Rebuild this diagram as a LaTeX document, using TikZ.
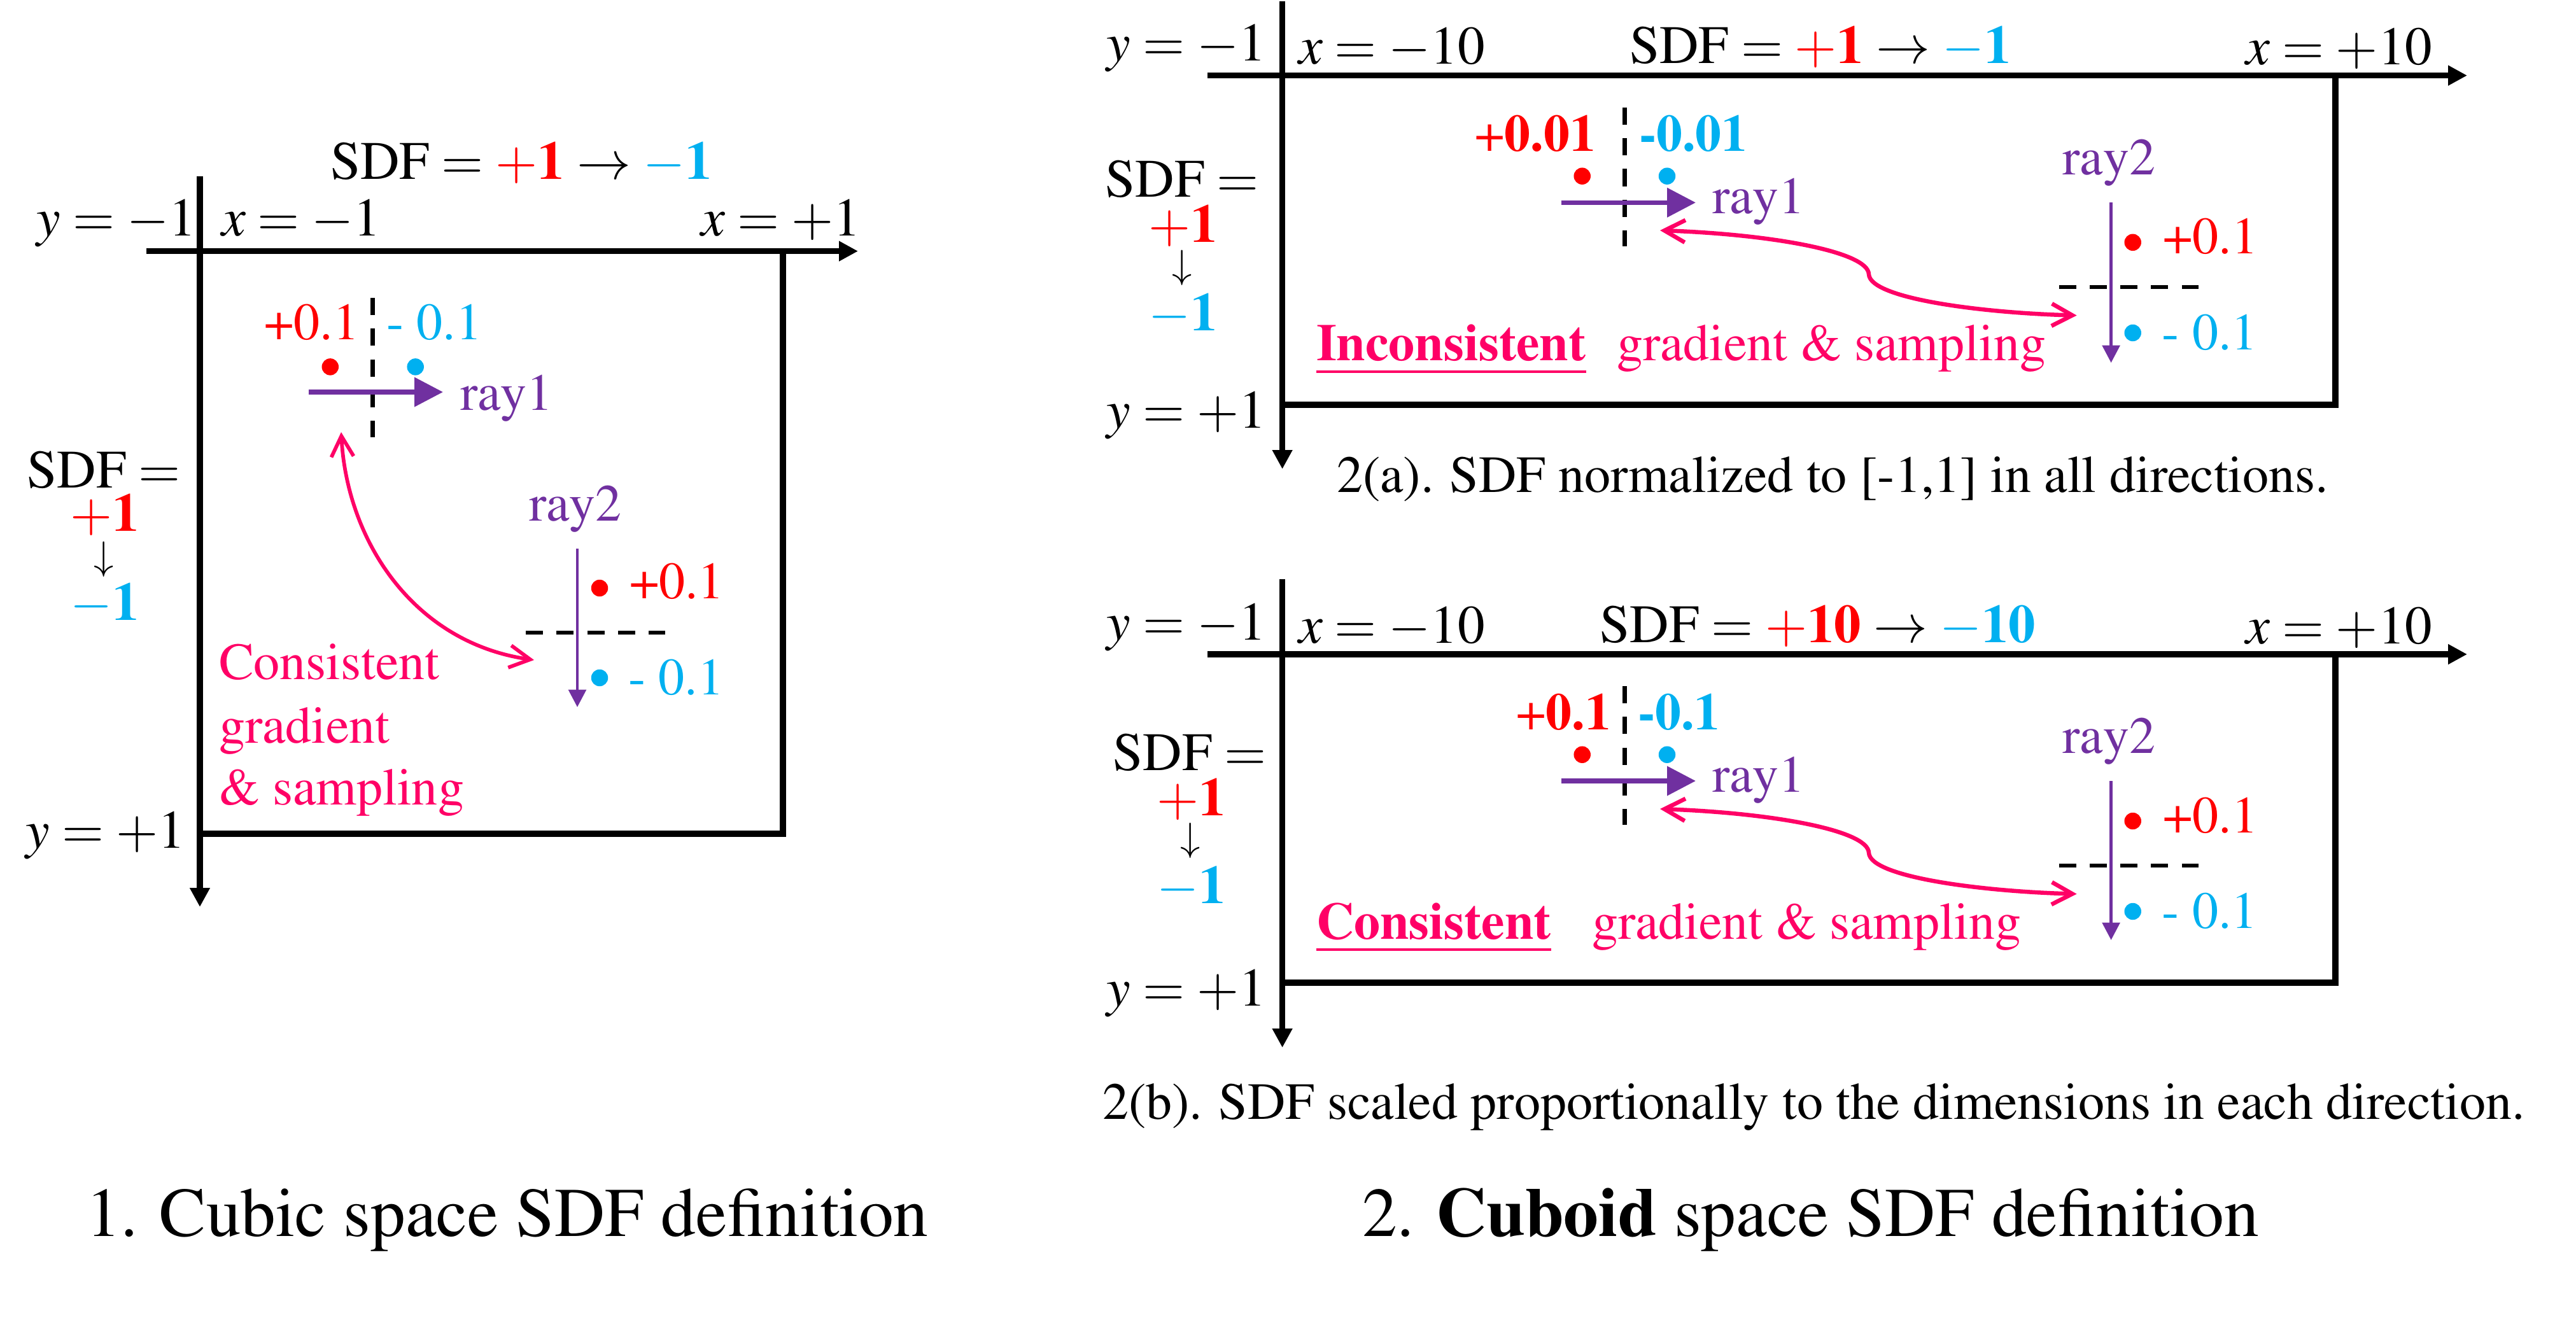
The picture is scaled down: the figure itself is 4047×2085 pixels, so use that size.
\documentclass[tikz,border=0pt]{standalone}
\usepackage[T1]{fontenc}
\usepackage{mathptmx}
\usetikzlibrary{arrows.meta}
\definecolor{sred}{RGB}{255,0,0}
\definecolor{sblue}{RGB}{0,176,240}
\definecolor{spurple}{RGB}{112,48,160}
\definecolor{spink}{RGB}{255,0,102}
\newcommand\txtsz{\fontsize{32.8}{36}\selectfont}
\newcommand\mathsz{\fontsize{34}{38}\selectfont}
\newcommand\arrsz{\fontsize{25}{28}\selectfont}
\newcommand\titlesz{\fontsize{43.8}{50}\selectfont}
\tikzset{
  axis/.style={line width=3.8pt, -{Triangle[length=12pt,width=12pt]}},
  boxline/.style={line width=3.8pt, line join=miter},
  rayone/.style={spurple, line width=2.9pt, -{Triangle[length=18pt,width=18pt]}},
  raytwo/.style={spurple, line width=1.9pt, -{Triangle[length=11pt,width=11pt]}},
  dashline/.style={line width=2.6pt, dash pattern=on 10.8pt off 8.5pt},
  pinkarrow/.style={spink, line width=#1, {Straight Barb[length=13pt,width=14pt]}-{Straight Barb[length=13pt,width=14pt]}},
  pinkarrow/.default=2.3pt,
  reddot/.style={circle, fill=sred, minimum size=10.6pt, inner sep=0pt},
  bluedot/.style={circle, fill=sblue, minimum size=10.6pt, inner sep=0pt},
  txt/.style={font=\txtsz},
  mth/.style={font=\mathsz},
  ttl/.style={font=\titlesz},
}
\begin{document}
\begin{tikzpicture}[x=0.4pt,y=-0.4pt, every node/.style={inner sep=0pt, outer sep=0pt}]
\useasboundingbox (0,0) rectangle (4047,2085);

% ================= Panel 1 =================
\coordinate (h1s) at (230,394.6);
\coordinate (h1e) at (1348,394.6);
\coordinate (v1s) at (314,277);
\coordinate (v1e) at (314,1425);
\coordinate (b1a) at (1230,390);
\coordinate (b1b) at (1230,1310);
\coordinate (b1c) at (314,1310);
\draw[axis] (h1s) -- (h1e);
\draw[axis] (v1s) -- (v1e);
\draw[boxline] (b1a) -- (b1b) -- (b1c);

\node[mth, anchor=base east] (p1ym) at (308,371) {$y = -1$};
\node[mth, anchor=base west] (p1xm) at (348,371) {$x = -1$};
\node[mth, anchor=base east] (p1xp) at (1352,371) {$x = +1$};
\node[mth, anchor=base] (p1sdf) at (819,282) {$\mathrm{SDF} = {\color{sred}+\mathbf{1}} \rightarrow {\color{sblue}-\mathbf{1}}$};
\node[mth, anchor=base] (p1l1) at (163,766) {$\mathrm{SDF} =$};
\node[mth, anchor=base] (p1l2) at (165,834) {$\color{sred}+\mathbf{1}$};
\node[font=\arrsz] (p1l3) at (163,879) {$\downarrow$};
\node[mth, anchor=base] (p1l4) at (165,974) {$\color{sblue}-\mathbf{1}$};
\node[mth, anchor=base east] (p1yp) at (291,1332) {$y = +1$};

\coordinate (d1a) at (585.7,468);
\coordinate (d1b) at (585.7,687);
\draw[dashline] (d1a) -- (d1b);
\node[txt, anchor=base east, text=sred] (p1pa) at (564,533) {+0.1};
\node[txt, anchor=base west, text=sblue] (p1ma) at (607,533) {- 0.1};
\node[reddot] (p1r1) at (518.8,576.4) {};
\node[bluedot] (p1b1) at (652.7,576.4) {};
\coordinate (r1a) at (485,616);
\coordinate (r1b) at (696,616);
\draw[rayone] (r1a) -- (r1b);
\node[txt, anchor=base west, text=spurple] (p1ray1) at (723,644) {ray1};

\node[txt, anchor=base, text=spurple] (p1ray2) at (904,818) {ray2};
\coordinate (r2a) at (907,862);
\coordinate (r2b) at (907,1111);
\coordinate (d2a) at (826,994);
\coordinate (d2b) at (1045,994);
\draw[dashline] (d2a) -- (d2b);
\draw[raytwo] (r2a) -- (r2b);
\node[reddot] (p1r2) at (942,924) {};
\node[txt, anchor=base west, text=sred] (p1pb) at (989,940) {+0.1};
\node[bluedot] (p1b2) at (942,1065) {};
\node[txt, anchor=base west, text=sblue] (p1mb) at (987,1091.5) {- 0.1};

\coordinate (c1a) at (536,679);
\coordinate (c1b) at (839,1037);
\draw[pinkarrow=2.3pt] (c1a) .. controls (545,850) and (650,1010) .. (c1b);
\node[txt, anchor=base west, text=spink] (p1c1) at (344,1067.6) {Consistent};
\node[txt, anchor=base west, text=spink] (p1c2) at (344,1167) {gradient};
\node[txt, anchor=base west, text=spink] (p1c3) at (344,1264.6) {\& sampling};

\node[ttl, anchor=base west] (t1) at (135,1942) {1. Cubic space SDF definition};

% ================= Panel 2(a) =================
\coordinate (h2s) at (1897,118.6);
\coordinate (h2e) at (3876,118.6);
\coordinate (v2s) at (2014.6,2);
\coordinate (v2e) at (2014.6,737);
\coordinate (b2a) at (3669,114);
\coordinate (b2b) at (3669,636);
\coordinate (b2c) at (2014.6,636);
\draw[axis] (h2s) -- (h2e);
\draw[axis] (v2s) -- (v2e);
\draw[boxline] (b2a) -- (b2b) -- (b2c);

\node[mth, anchor=base east] (aym) at (1989,96) {$y = -1$};
\node[mth, anchor=base west] (axm) at (2040,101) {$x = -10$};
\node[mth, anchor=base] (asdf) at (2860,100) {$\mathrm{SDF} = {\color{sred}+\mathbf{1}} \rightarrow {\color{sblue}-\mathbf{1}}$};
\node[mth, anchor=base east] (axp) at (3821,102) {$x = +10$};
\node[mth, anchor=base] (al1) at (1857,310) {$\mathrm{SDF} =$};
\node[mth, anchor=base] (al2) at (1859,381) {$\color{sred}+\mathbf{1}$};
\node[font=\arrsz] (al3) at (1857,421) {$\downarrow$};
\node[mth, anchor=base] (al4) at (1859,519) {$\color{sblue}-\mathbf{1}$};
\node[mth, anchor=base east] (ayp) at (1989,672) {$y = +1$};

\coordinate (ad1a) at (2552.7,169);
\coordinate (ad1b) at (2552.7,387);
\draw[dashline] (ad1a) -- (ad1b);
\node[txt, anchor=base east, text=sred] (apa) at (2507,238) {+\textbf{0.01}};
\node[txt, anchor=base west, text=sblue] (ama) at (2575,238) {\textbf{-0.01}};
\node[reddot] (ar1) at (2485.7,276.7) {};
\node[bluedot] (ab1) at (2619,276.7) {};
\coordinate (ar1a) at (2452.7,318.3);
\coordinate (ar1b) at (2664,318.3);
\draw[rayone] (ar1a) -- (ar1b);
\node[txt, anchor=base west, text=spurple] (aray1) at (2690,335.7) {ray1};

\node[txt, anchor=base, text=spurple] (aray2) at (3313.5,274.4) {ray2};
\coordinate (ar2a) at (3316.6,318.4);
\coordinate (ar2b) at (3316.6,570);
\coordinate (ad2a) at (3234.7,451.2);
\coordinate (ad2b) at (3454,451.2);
\draw[dashline] (ad2a) -- (ad2b);
\draw[raytwo] (ar2a) -- (ar2b);
\node[reddot] (ar2) at (3350.7,380.8) {};
\node[txt, anchor=base west, text=sred] (apb) at (3398.5,398.8) {+0.1};
\node[bluedot] (ab2) at (3350.7,523) {};
\node[txt, anchor=base west, text=sblue] (amb) at (3396.6,549) {- 0.1};

\coordinate (acl) at (2608,362);
\coordinate (acm) at (2936,431);
\coordinate (acr) at (3262.6,495.6);
\draw[pinkarrow=2.6pt] (acl) .. controls (2780,368) and (2935,395) .. (acm) .. controls (2938,470) and (3120,492) .. (acr);
\node[txt, anchor=base west, text=spink] (ainc) at (2068,566.4) {\textbf{Inconsistent}};
\draw[spink, line width=1.7pt] ([yshift=-6.9pt]ainc.base west) -- ([yshift=-6.9pt]ainc.base east);
\node[txt, anchor=base west, text=spink] (agrad) at (2540,566) {gradient \& sampling};
\node[txt, anchor=base west] (acap) at (2100,773.6) {2(a). SDF normalized to [-1,1] in all directions.};

% ================= Panel 2(b) =================
\coordinate (h3s) at (1897,1028);
\coordinate (h3e) at (3876,1028);
\coordinate (v3s) at (2014.6,910);
\coordinate (v3e) at (2014.6,1646);
\coordinate (b3a) at (3669,1023.5);
\coordinate (b3b) at (3669,1544);
\coordinate (b3c) at (2014.6,1544);
\draw[axis] (h3s) -- (h3e);
\draw[axis] (v3s) -- (v3e);
\draw[boxline] (b3a) -- (b3b) -- (b3c);

\node[mth, anchor=base east] (bym) at (1989,1005) {$y = -1$};
\node[mth, anchor=base west] (bxm) at (2040,1010) {$x = -10$};
\node[mth, anchor=base] (bsdf) at (2856,1009) {$\mathrm{SDF} = {\color{sred}+\mathbf{10}} \rightarrow {\color{sblue}-\mathbf{10}}$};
\node[mth, anchor=base east] (bxp) at (3821,1011) {$x = +10$};
\node[mth, anchor=base] (bl1) at (1869,1210) {$\mathrm{SDF} =$};
\node[mth, anchor=base] (bl2) at (1872,1281) {$\color{sred}+\mathbf{1}$};
\node[font=\arrsz] (bl3) at (1870,1321) {$\downarrow$};
\node[mth, anchor=base] (bl4) at (1872,1419) {$\color{sblue}-\mathbf{1}$};
\node[mth, anchor=base east] (byp) at (1989,1580) {$y = +1$};

\coordinate (bd1a) at (2552.7,1078);
\coordinate (bd1b) at (2552.7,1296);
\draw[dashline] (bd1a) -- (bd1b);
\node[txt, anchor=base east, text=sred] (bpa) at (2531,1146) {+\textbf{0.1}};
\node[txt, anchor=base west, text=sblue] (bma) at (2573,1146) {\textbf{-0.1}};
\node[reddot] (br1) at (2485.7,1185.7) {};
\node[bluedot] (bb1) at (2619,1185.7) {};
\coordinate (br1a) at (2452.7,1227);
\coordinate (br1b) at (2664,1227);
\draw[rayone] (br1a) -- (br1b);
\node[txt, anchor=base west, text=spurple] (bray1) at (2690,1244.7) {ray1};

\node[txt, anchor=base, text=spurple] (bray2) at (3313.5,1183) {ray2};
\coordinate (br2a) at (3316.6,1227.4);
\coordinate (br2b) at (3316.6,1477);
\coordinate (bd2a) at (3234.7,1360);
\coordinate (bd2b) at (3454,1360);
\draw[dashline] (bd2a) -- (bd2b);
\draw[raytwo] (br2a) -- (br2b);
\node[reddot] (br2) at (3350.7,1290) {};
\node[txt, anchor=base west, text=sred] (bpb) at (3398.5,1308) {+0.1};
\node[bluedot] (bb2) at (3350.7,1432) {};
\node[txt, anchor=base west, text=sblue] (bmb) at (3396.6,1458) {- 0.1};

\coordinate (bcl) at (2608,1271);
\coordinate (bcm) at (2936,1340);
\coordinate (bcr) at (3262.6,1404.6);
\draw[pinkarrow=2.6pt] (bcl) .. controls (2780,1277) and (2935,1304) .. (bcm) .. controls (2938,1379) and (3120,1401) .. (bcr);
\node[txt, anchor=base west, text=spink] (bcon) at (2068,1475) {\textbf{Consistent}};
\draw[spink, line width=1.7pt] ([yshift=-6.9pt]bcon.base west) -- ([yshift=-6.9pt]bcon.base east);
\node[txt, anchor=base west, text=spink] (bgrad) at (2501,1475) {gradient \& sampling};
\node[txt, anchor=base west] (bcap) at (1732,1758) {2(b). SDF scaled proportionally to the dimensions in each direction.};

\node[ttl, anchor=base west] (t2) at (2140,1942) {2. \textbf{Cuboid} space SDF definition};
\end{tikzpicture}
\end{document}
